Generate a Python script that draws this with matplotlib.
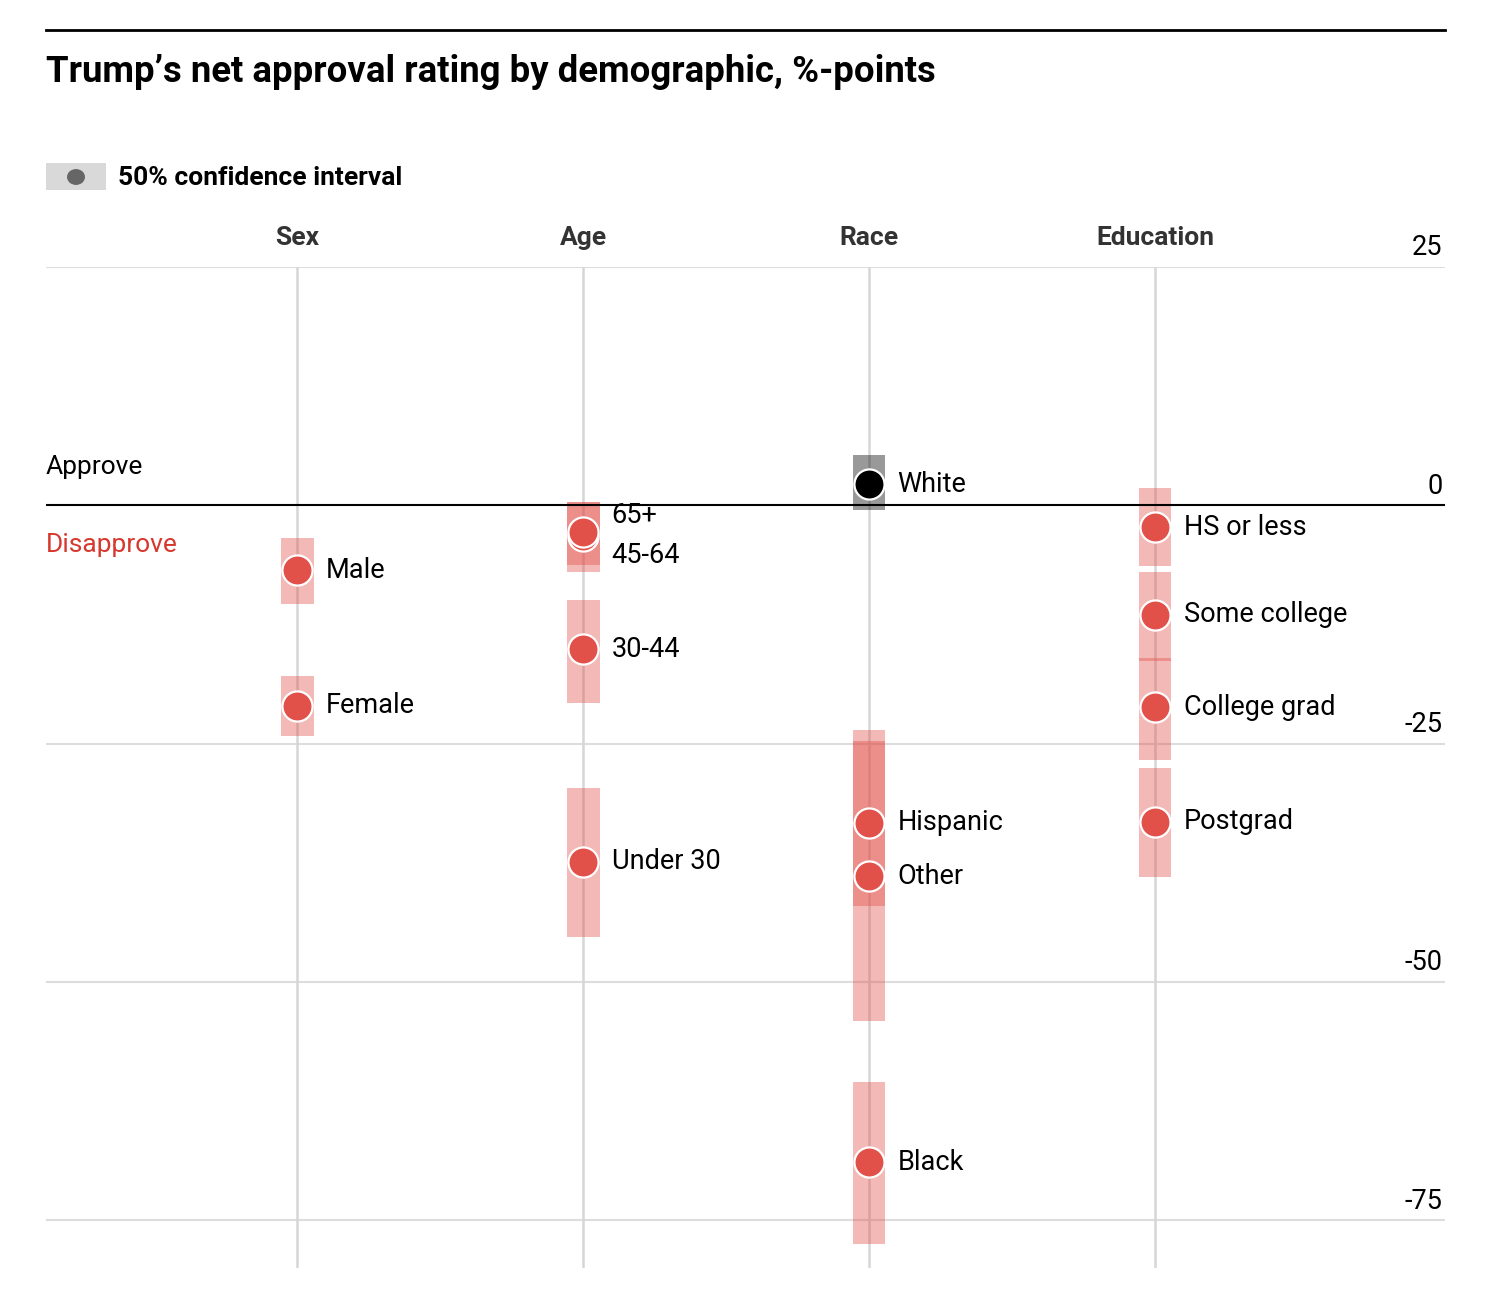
import matplotlib
matplotlib.use("Agg")
import matplotlib.pyplot as plt
from matplotlib.patches import Rectangle, Circle
from matplotlib.lines import Line2D

# ---- data ----
groups = ["Sex", "Age", "Race", "Education"]
labels = [
    ["Male", "Female"],
    ["65+", "45-64", "30-44", "Under 30"],
    ["White", "Hispanic", "Other", "Black"],
    ["HS or less", "Some college", "College grad", "Postgrad"],
]
values = [
    [-6.8, -21.0],
    [-2.8, -3.2, -15.1, -37.4],
    [2.2, -33.3, -38.9, -68.9],
    [-2.3, -11.5, -21.2, -33.2],
]
ci_high = [
    [-3.4, -17.9],
    [0.4, 0.4, -9.9, -29.7],
    [5.3, -23.6, -24.7, -60.5],
    [1.8, -7.0, -16.0, -27.6],
]
ci_low = [
    [-10.3, -24.2],
    [-6.3, -7.0, -20.7, -45.3],
    [-0.5, -42.0, -54.1, -77.5],
    [-6.4, -16.3, -26.7, -39.0],
]
yticks = [25, 0, -25, -50, -75]

# label vertical nudges in pixels (style)
label_dy = {"65+": 17, "45-64": -20}

W, H = 1490, 1314
fig = plt.figure(figsize=(W / 100, H / 100), dpi=100)
FONT = ["Roboto", "DejaVu Sans"]
plt.rcParams["font.family"] = FONT

ax = fig.add_axes([46 / W, (H - 1268) / H, 1399 / W, 1001 / H])
ax.set_xlim(-0.878, 4.014)
ax.set_ylim(-80, 25)
ax.axis("off")

RED = "#e2504a"
# gridlines
for t in yticks:
    if t == 0:
        ax.axhline(0, color="black", lw=1.5, zorder=3)
    else:
        ax.axhline(t, color="#dddddd", lw=1.5, zorder=0)
    ax.text(4.005, t + 0.6, f"{t}", ha="right", va="bottom", fontsize=19.5,
            color="black")

for i, g in enumerate(groups):
    ax.axvline(i, color="#d6d6d6", lw=1.8, zorder=0)
    ax.text(i, 28.0, g, ha="center", va="center", fontsize=19,
            fontweight="bold", color="#333333", clip_on=False)
    for lab, v, hi, lo in zip(labels[i], values[i], ci_high[i], ci_low[i]):
        pos = v >= 0
        ax.bar(i, hi - lo, bottom=lo, width=0.115,
               color="black" if pos else RED, alpha=0.4, lw=0, zorder=2)
    for lab, v in reversed(list(zip(labels[i], values[i]))):
        pos = v >= 0
        ax.scatter([i], [v], s=470, color="black" if pos else RED,
                   edgecolor="white", linewidth=1.6, zorder=4)
    for lab, v in zip(labels[i], values[i]):
        dy = label_dy.get(lab, 0) / 9.53
        ax.text(i + 0.1, v + dy, lab, ha="left", va="center", fontsize=19.5,
                color="black", zorder=5)

ax.text(-0.878, 4.0, "Approve", ha="left", va="center", fontsize=19,
        color="black")
ax.text(-0.878, -4.2, "Disapprove", ha="left", va="center", fontsize=19,
        color="#d7382e")

# title and top rule
fig.add_artist(Line2D([46 / W, 1445 / W], [1 - 30 / H, 1 - 30 / H],
                      color="black", lw=2))
fig.text(46 / W, 1 - 72 / H, "Trump\u2019s net approval rating by demographic, %-points",
         ha="left", va="center", fontsize=26.3, fontweight="bold", color="black")

# legend
fig.add_artist(Rectangle((46 / W, 1 - 190 / H), 60 / W, 27 / H,
                         transform=fig.transFigure, color="#d9d9d9", lw=0))
fig.add_artist(Circle((76 / W, 1 - 177 / H), 9 / W,
                      transform=fig.transFigure, color="#666666", lw=0))
fig.text(118 / W, 1 - 178 / H, "50% confidence interval", ha="left",
         va="center", fontsize=19, fontweight="bold", color="black")

fig.savefig("out.png", dpi=100)
